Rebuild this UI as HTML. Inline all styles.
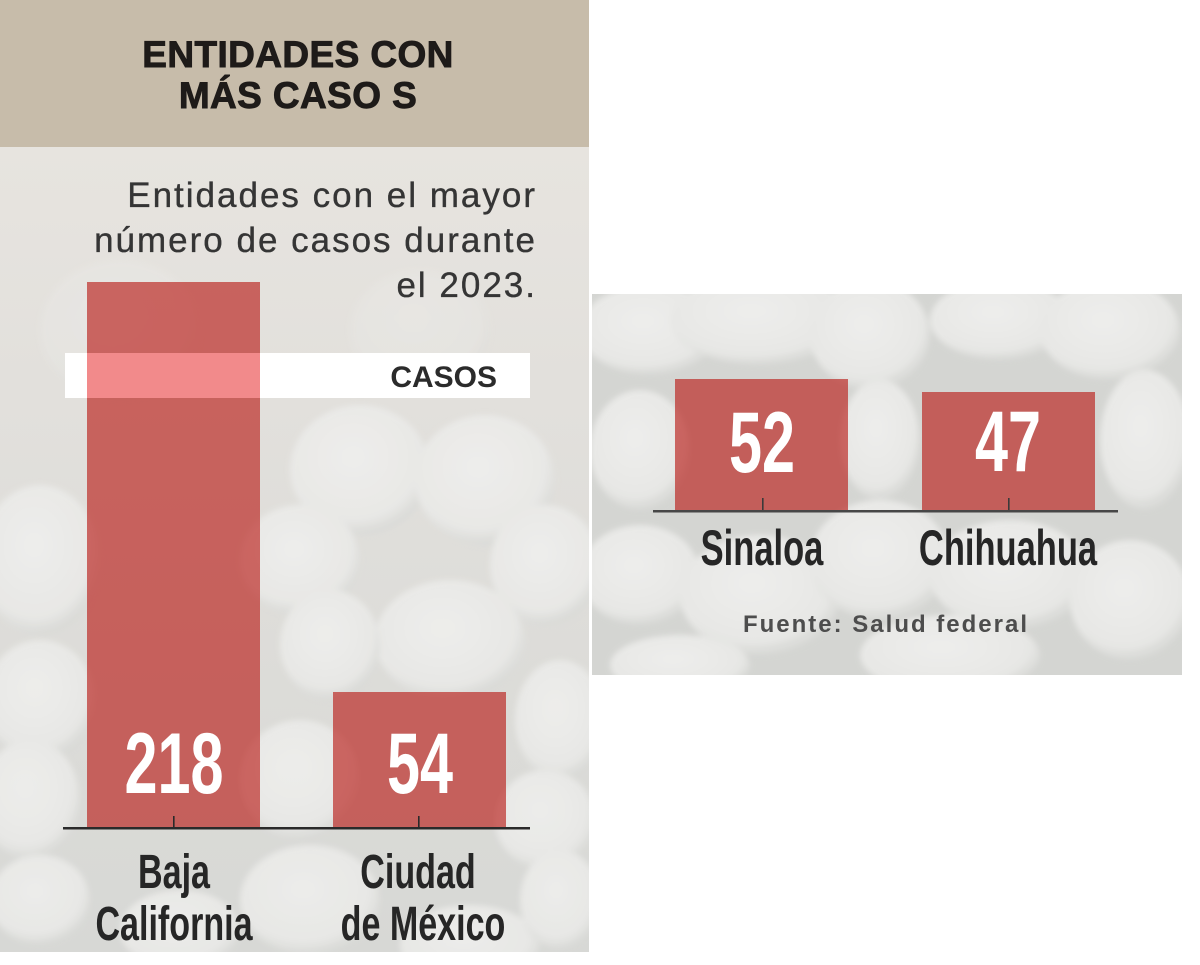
<!DOCTYPE html>
<html>
<head>
<meta charset="utf-8">
<style>
  html, body { margin:0; padding:0; background:#ffffff; }
  body { width:1200px; height:965px; overflow:hidden; }
  svg { display:block; }
  .hdr { font-family:"Liberation Sans", sans-serif; font-weight:bold; font-size:37px; fill:#1e1b19; stroke:#1e1b19; stroke-width:0.9px; letter-spacing:0.4px; }
  .sub { font-family:"Liberation Sans", sans-serif; font-size:35px; fill:#353535; stroke:#353535; stroke-width:0.35px; letter-spacing:2px; }
  .num { font-family:"Liberation Sans", sans-serif; font-weight:bold; font-size:86px; fill:#ffffff; }
  .lab { font-family:"Liberation Sans", sans-serif; font-weight:bold; font-size:48px; fill:#262626; }
  .labr { font-family:"Liberation Sans", sans-serif; font-weight:bold; font-size:50px; fill:#262626; }
  .casos { font-family:"Liberation Sans", sans-serif; font-weight:bold; font-size:30px; fill:#2b2b2b; }
  .src { font-family:"Liberation Sans", sans-serif; font-weight:bold; font-size:24px; fill:#4d4d4d; letter-spacing:2px; }
</style>
</head>
<body>
<svg width="1200" height="965" viewBox="0 0 1200 965" xmlns="http://www.w3.org/2000/svg">
  <defs>
    <clipPath id="cl"><rect x="0" y="147" width="589" height="805"/></clipPath>
    <clipPath id="cr"><rect x="592" y="294" width="590" height="381"/></clipPath>
    <linearGradient id="gl" x1="0" y1="0" x2="0" y2="1">
      <stop offset="0" stop-color="#e7e4df"/>
      <stop offset="0.3" stop-color="#e2e0dc"/>
      <stop offset="1" stop-color="#d7d8d5"/>
    </linearGradient>
    <radialGradient id="pill" cx="0.45" cy="0.4" r="0.6">
      <stop offset="0" stop-color="#f1f1ef"/>
      <stop offset="0.8" stop-color="#eaeae8"/>
      <stop offset="1" stop-color="#d8d9d6"/>
    </radialGradient>
    <filter id="blur" x="-10%" y="-10%" width="120%" height="120%">
      <feGaussianBlur stdDeviation="3"/>
    </filter>
  </defs>

  <!-- LEFT PANEL -->
  <rect x="0" y="0" width="589" height="147" fill="#c7bcaa"/>
  <rect x="0" y="147" width="589" height="805" fill="url(#gl)"/>
  <g clip-path="url(#cl)" filter="url(#blur)" opacity="0.85">
    <ellipse cx="120" cy="330" rx="80" ry="70" fill="url(#pill)" opacity="0.35"/>
    <ellipse cx="420" cy="330" rx="70" ry="60" fill="url(#pill)" opacity="0.3"/>
    <ellipse cx="360" cy="470" rx="70" ry="65" fill="url(#pill)"/>
    <ellipse cx="485" cy="480" rx="70" ry="65" fill="url(#pill)"/>
    <ellipse cx="40" cy="560" rx="60" ry="75" fill="url(#pill)"/>
    <ellipse cx="545" cy="565" rx="55" ry="60" fill="url(#pill)"/>
    <ellipse cx="300" cy="560" rx="60" ry="55" fill="url(#pill)"/>
    <ellipse cx="450" cy="640" rx="75" ry="60" fill="url(#pill)"/>
    <ellipse cx="330" cy="645" rx="50" ry="55" fill="url(#pill)"/>
    <ellipse cx="40" cy="700" rx="55" ry="60" fill="url(#pill)"/>
    <ellipse cx="560" cy="720" rx="45" ry="60" fill="url(#pill)"/>
    <ellipse cx="30" cy="800" rx="50" ry="60" fill="url(#pill)"/>
    <ellipse cx="300" cy="780" rx="60" ry="60" fill="url(#pill)"/>
    <ellipse cx="545" cy="820" rx="50" ry="50" fill="url(#pill)"/>
    <ellipse cx="310" cy="900" rx="70" ry="55" fill="url(#pill)"/>
    <ellipse cx="40" cy="900" rx="50" ry="45" fill="url(#pill)"/>
    <ellipse cx="470" cy="945" rx="70" ry="40" fill="url(#pill)"/>
    <ellipse cx="560" cy="900" rx="40" ry="50" fill="url(#pill)"/>
    <ellipse cx="180" cy="930" rx="60" ry="40" fill="url(#pill)"/>
  </g>

  <!-- header text -->
  <text class="hdr" x="298" y="67" text-anchor="middle">ENTIDADES CON</text>
  <text class="hdr" x="298" y="108" text-anchor="middle">MÁS CASO S</text>

  <!-- subtitle -->
  <text class="sub" x="537" y="207" text-anchor="end">Entidades con el mayor</text>
  <text class="sub" x="537" y="252" text-anchor="end">número de casos durante</text>
  <text class="sub" x="537" y="297" text-anchor="end">el 2023.</text>

  <!-- bars left -->
  <rect x="87" y="282" width="173" height="546" fill="rgba(185,26,22,0.64)"/>
  <rect x="333" y="692" width="173" height="136" fill="rgba(185,26,22,0.64)"/>

  <!-- CASOS band -->
  <rect x="65" y="353" width="465" height="45" fill="#ffffff"/>
  <rect x="87" y="353" width="173" height="45" fill="#f28a8b"/>
  <text class="casos" x="497" y="387" text-anchor="end">CASOS</text>

  <!-- axis left -->
  <rect x="63" y="827" width="467" height="2.5" fill="#2a2a2a"/>
  <rect x="173" y="816" width="1.6" height="12" fill="#2a2a2a"/>
  <rect x="418" y="816" width="1.6" height="12" fill="#2a2a2a"/>

  <!-- numbers left -->
  <text class="num" text-anchor="middle" transform="translate(174,793) scale(0.69,1)">218</text>
  <text class="num" text-anchor="middle" transform="translate(420,793) scale(0.69,1)">54</text>

  <!-- labels left -->
  <text class="lab" text-anchor="middle" transform="translate(174,888) scale(0.71,1)">Baja</text>
  <text class="lab" text-anchor="middle" transform="translate(174,940) scale(0.71,1)">California</text>
  <text class="lab" text-anchor="middle" transform="translate(418,888) scale(0.71,1)">Ciudad</text>
  <text class="lab" text-anchor="middle" transform="translate(423,940) scale(0.71,1)">de México</text>

  <!-- RIGHT PANEL -->
  <rect x="592" y="294" width="590" height="381" fill="#d4d5d2"/>
  <g clip-path="url(#cr)" filter="url(#blur)" opacity="0.9">
    <ellipse cx="650" cy="330" rx="70" ry="45" fill="url(#pill)"/>
    <ellipse cx="760" cy="320" rx="90" ry="45" fill="url(#pill)"/>
    <ellipse cx="870" cy="335" rx="60" ry="55" fill="url(#pill)"/>
    <ellipse cx="1000" cy="320" rx="70" ry="40" fill="url(#pill)"/>
    <ellipse cx="1110" cy="330" rx="70" ry="50" fill="url(#pill)"/>
    <ellipse cx="640" cy="450" rx="50" ry="60" fill="url(#pill)"/>
    <ellipse cx="880" cy="440" rx="40" ry="60" fill="url(#pill)"/>
    <ellipse cx="1145" cy="440" rx="45" ry="70" fill="url(#pill)"/>
    <ellipse cx="640" cy="575" rx="60" ry="50" fill="url(#pill)"/>
    <ellipse cx="760" cy="595" rx="80" ry="60" fill="url(#pill)"/>
    <ellipse cx="880" cy="560" rx="70" ry="60" fill="url(#pill)"/>
    <ellipse cx="1010" cy="575" rx="80" ry="55" fill="url(#pill)"/>
    <ellipse cx="1130" cy="600" rx="60" ry="60" fill="url(#pill)"/>
    <ellipse cx="680" cy="665" rx="70" ry="30" fill="url(#pill)"/>
    <ellipse cx="950" cy="655" rx="90" ry="40" fill="url(#pill)"/>
  </g>

  <!-- bars right -->
  <rect x="675" y="379" width="173" height="132" fill="rgba(185,26,22,0.64)"/>
  <rect x="922" y="392" width="173" height="119" fill="rgba(185,26,22,0.64)"/>

  <!-- axis right -->
  <rect x="653" y="510" width="465" height="2.5" fill="#474747"/>
  <rect x="762" y="498" width="1.6" height="12" fill="#3a3a3a"/>
  <rect x="1008" y="498" width="1.6" height="12" fill="#3a3a3a"/>

  <!-- numbers right -->
  <text class="num" text-anchor="middle" transform="translate(762,472) scale(0.69,1)">52</text>
  <text class="num" text-anchor="middle" transform="translate(1008,471) scale(0.69,1)">47</text>

  <!-- labels right -->
  <text class="labr" text-anchor="middle" transform="translate(762,565) scale(0.69,1)">Sinaloa</text>
  <text class="labr" text-anchor="middle" transform="translate(1008,565) scale(0.69,1)">Chihuahua</text>

  <!-- source -->
  <text class="src" x="886" y="632" text-anchor="middle">Fuente: Salud federal</text>
</svg>
</body>
</html>
